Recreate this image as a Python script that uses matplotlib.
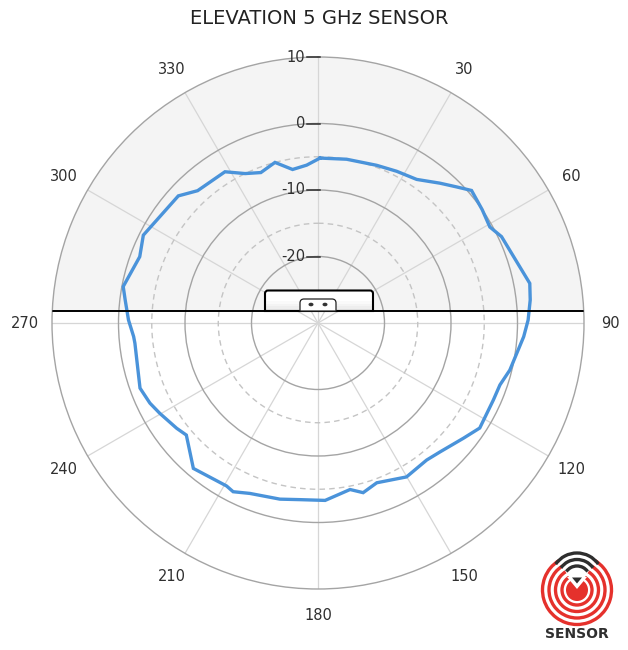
import numpy as np
import matplotlib
matplotlib.use("Agg")
import matplotlib.pyplot as plt
from matplotlib.patches import Rectangle, Circle, Ellipse, Arc, Polygon, PathPatch
from matplotlib.path import Path

# measured elevation pattern, degrees clockwise from zenith / gain in dB
angles_deg = [0.7, 9.9, 20.4, 27.4, 34.5, 41.1, 45.5, 49.2, 55.4, 60.8,
              64.8, 79.4, 83.8, 89.2, 93.8, 103.8, 108.8, 113.7, 123.0, 128.4,
              136.5, 141.6, 150.1, 159.8, 165.1, 169.1, 177.7, 185.8, 192.2, 201.8,
              206.7, 209.3, 220.6, 229.6, 233.3, 240.3, 244.5, 249.9, 263.7, 265.8,
              270.9, 276.8, 280.6, 290.4, 296.7, 312.3, 317.7, 328.4, 334.0, 339.2,
              345.0, 350.6, 355.9]
gain_db = [-5.2, -5.0, -4.7, -4.3, -3.8, -2.1, -0.8, 0.5, 0.0, -0.4,
           0.5, 2.4, 2.1, 1.6, 1.0, -0.3, -1.1, -1.2, -1.0, -2.1,
           -3.3, -3.7, -3.3, -4.4, -3.6, -4.5, -3.3, -3.3, -2.9, -2.4,
           -1.6, -1.9, -1.2, -4.0, -3.5, -2.6, -2.0, -1.5, -2.3, -2.2,
           -1.5, -0.8, -0.2, -1.4, -0.6, -1.6, -3.1, -3.3, -5.0, -5.8,
           -5.0, -6.6, -6.2]

r_min, r_max = -30, 10
solid_rings = [-20, -10, 0]
dashed_rings = [-15, -5]
ring_labels = [10, 0, -10, -20]
spoke_angles = list(range(0, 360, 30))
spoke_labels = [str(a) for a in spoke_angles]

title = "ELEVATION 5 GHz SENSOR"
blue = "#4a93da"
text_color = "#2f2f2f"

fig = plt.figure(figsize=(6.28, 6.5), dpi=100)
fig.patch.set_facecolor("white")

# polar area: 532 px square, centred at (318, 323) px
ax = fig.add_axes([52 / 628, 61 / 650, 532 / 628, 532 / 650], projection="polar")
ax.set_theta_zero_location("N")
ax.set_theta_direction(-1)
ax.set_ylim(r_min, r_max)
ax.set_facecolor("white")

ax.set_xticks(np.deg2rad(spoke_angles))
ax.set_xticklabels([])
ax.set_yticks(sorted(solid_rings + dashed_rings))
ax.set_yticklabels([])
ax.tick_params(length=0)
ax.grid(True)

for line in ax.xaxis.get_gridlines():
    line.set_color("#d6d6d6")
    line.set_linewidth(0.9)
    line.set_linestyle("-")

for tick_val, line in zip(sorted(solid_rings + dashed_rings), ax.yaxis.get_gridlines()):
    if tick_val in dashed_rings:
        line.set_color("#c4c4c4")
        line.set_linestyle((0, (4, 3)))
    else:
        line.set_color("#a4a4a4")
        line.set_linestyle("-")
    line.set_linewidth(1.0)

ax.spines["polar"].set_color("#a4a4a4")
ax.spines["polar"].set_linewidth(1.0)

# upper half shading, above the mounting line
line_y = 0.5 + 12 / 532
ax.add_patch(Rectangle((0, line_y), 1, 1 - line_y, transform=ax.transAxes,
                       facecolor="#f4f4f4", edgecolor="none", zorder=0.5))

# pattern trace
theta = np.deg2rad(angles_deg + [angles_deg[0] + 360])
ax.plot(theta, gain_db + [gain_db[0]], color=blue, linewidth=2.4, zorder=2,
        solid_joinstyle="miter")

# mounting line
ax.plot([0, 1], [line_y, line_y], transform=ax.transAxes, color="black",
        linewidth=1.4, zorder=3)


def top_rounded(x0, x1, y0, y1, r):
    verts = [(x0, y0), (x0, y1 - r), (x0, y1), (x0 + r, y1), (x1 - r, y1),
             (x1, y1), (x1, y1 - r), (x1, y0), (x0, y0)]
    codes = [Path.MOVETO, Path.LINETO, Path.CURVE3, Path.CURVE3, Path.LINETO,
             Path.CURVE3, Path.CURVE3, Path.LINETO, Path.CLOSEPOLY]
    return Path(verts, codes)


# sensor housing
bx0, bx1 = 0.5 - 53 / 532, 0.5 + 55 / 532
by0, by1 = line_y, 0.5 + 32.5 / 532
ax.add_patch(PathPatch(top_rounded(bx0, bx1, by0, by1, 3 / 532),
                       transform=ax.transAxes, facecolor="white",
                       edgecolor="none", zorder=3))
band_h = (by1 - by0) * 0.12
for i, shade in enumerate(["#fafafa", "#f4f4f4", "#eeeeee", "#e6e6e6"]):
    ax.add_patch(Rectangle((bx0, by0 + band_h * (3 - i)), bx1 - bx0, band_h,
                           transform=ax.transAxes, facecolor=shade,
                           edgecolor="none", zorder=3.1))
ax.add_patch(PathPatch(top_rounded(bx0, bx1, by0, by1, 3 / 532),
                       transform=ax.transAxes, facecolor="none",
                       edgecolor="black", linewidth=1.5, zorder=3.3))

ix0, ix1 = 0.5 - 18 / 532, 0.5 + 18 / 532
iy1 = 0.5 + 24 / 532
ax.add_patch(PathPatch(top_rounded(ix0, ix1, by0, iy1, 4 / 532),
                       transform=ax.transAxes, facecolor="white",
                       edgecolor="#222222", linewidth=0.9, zorder=3.4))
for dx in (-7, 7):
    ax.add_patch(Ellipse((0.5 + dx / 532, 0.5 + 18.5 / 532), 5 / 532, 3.6 / 532,
                         transform=ax.transAxes, facecolor="#333333",
                         edgecolor="none", zorder=3.5))

# angle labels around the rim
for ang, lab in zip(spoke_angles, spoke_labels):
    if ang == 0:
        continue
    ax.text(np.deg2rad(ang), r_max + 4.05, lab, ha="center", va="center",
            fontsize=10.5, color=text_color, clip_on=False)

# ring labels along the zenith spoke
for val in ring_labels:
    y = 0.5 + 0.5 * (val - r_min) / (r_max - r_min)
    ax.text(0.5 - 13 / 532, y, str(val), transform=ax.transAxes, ha="right",
            va="center", fontsize=10.5, color=text_color, clip_on=False, zorder=4)
    ax.plot([0.5 - 11 / 532, 0.5 + 2 / 532], [y, y], transform=ax.transAxes,
            color=text_color, linewidth=1.1, clip_on=False, zorder=4)

fig.text(319 / 628, 1 - 18 / 650, title, ha="center", va="center",
         fontsize=14, color="#222222")

# logo
red = "#e5312c"
dark = "#2e2e2e"
lg = fig.add_axes([537 / 628, 20 / 650, 80 / 628, 80 / 650])
lg.set_xlim(-40, 40)
lg.set_ylim(-40, 40)
lg.axis("off")
for rad in (34.5, 28, 21.5, 15):
    lg.add_patch(Arc((0, 0), 2 * rad, 2 * rad, theta1=122, theta2=418,
                     color=red, linewidth=2.4))
for rad in (26, 19.5, 13):
    lg.add_patch(Arc((0, 11), 2 * rad, 2 * rad, theta1=35, theta2=145,
                     color=dark, linewidth=2.4))
lg.add_patch(Circle((0, 0), 11, facecolor=red, edgecolor="none"))
lg.add_patch(Polygon([(-10, 13), (10, 13), (0, 1)], closed=True,
                     facecolor="white", edgecolor="none"))
lg.add_patch(Polygon([(-5, 12.5), (5, 12.5), (0, 6.5)], closed=True,
                     facecolor=dark, edgecolor="none"))
fig.text(577 / 628, 1 - 634 / 650, "SENSOR", ha="center", va="center",
         fontsize=10, fontweight="bold", color=text_color)

fig.savefig("out.png", dpi=100, facecolor="white")
